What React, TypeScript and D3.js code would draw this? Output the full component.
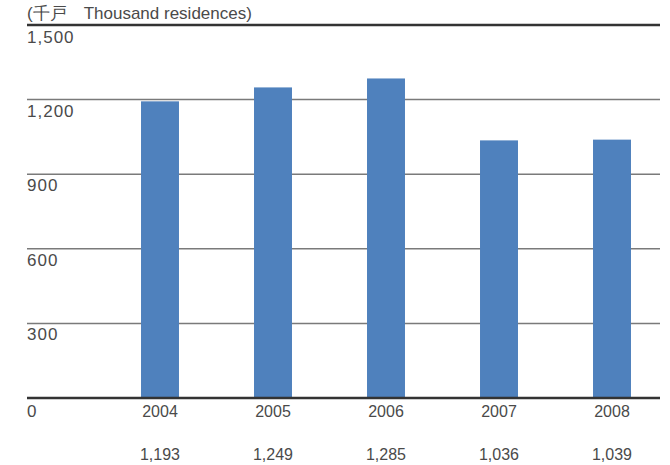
import React from "react";
import * as d3 from "d3";

const years = ["2004", "2005", "2006", "2007", "2008"];
const values = [1193, 1249, 1285, 1036, 1039];
const valueLabels = ["1,193", "1,249", "1,285", "1,036", "1,039"];
const yTicks = [300, 600, 900, 1200];
const yTickLabels = ["300", "600", "900", "1,200"];
const title = "(千戸\u3000Thousand residences)";

const W = 670;
const H = 465;

export default function App() {
  const x = d3.scaleBand<string>().domain(years).range([103.5, 668.5]).paddingInner(0.664).paddingOuter(0.332);
  const y = d3.scaleLinear().domain([0, 1500]).range([398, 25]);
  const left = 27;
  const right = 660;
  const font = "'Liberation Sans', Arial, sans-serif";
  const txt = "#4a4a4a";
  return (
    <svg width={W} height={H} style={{ position: "absolute", left: 0, top: 0, background: "#fff" }}>
      <text x={left} y={19} fontFamily={font} fontSize={17} fill={txt}>{title}</text>
      {yTicks.map((t) => (
        <line key={t} x1={left} x2={right} y1={y(t)} y2={y(t)} stroke="#7a7a7a" strokeWidth={1.5} />
      ))}
      {years.map((yr, i) => (
        <rect key={yr} x={x(yr)} width={x.bandwidth()} y={y(values[i])} height={y(0) - y(values[i])} fill="#4f81bd" />
      ))}
      <line x1={left} x2={right} y1={y(1500)} y2={y(1500)} stroke="#333" strokeWidth={2.5} />
      <line x1={left} x2={right} y1={y(0)} y2={y(0)} stroke="#333" strokeWidth={2.5} />
      <text x={left} y={y(1500) + 18} fontFamily={font} fontSize={17} letterSpacing={1} fill={txt}>1,500</text>
      {yTicks.map((t, i) => (
        <text key={t} x={left} y={y(t) + 17} fontFamily={font} fontSize={17} letterSpacing={1} fill={txt}>{yTickLabels[i]}</text>
      ))}
      <text x={left} y={y(0) + 19} fontFamily={font} fontSize={17} fill={txt}>0</text>
      {years.map((yr) => (
        <text key={yr} x={(x(yr) as number) + x.bandwidth() / 2} y={y(0) + 19} textAnchor="middle" fontFamily={font} fontSize={16} fill={txt}>{yr}</text>
      ))}
      {years.map((yr, i) => (
        <text key={yr + "v"} x={(x(yr) as number) + x.bandwidth() / 2} y={460} textAnchor="middle" fontFamily={font} fontSize={16} fill={txt}>{valueLabels[i]}</text>
      ))}
    </svg>
  );
}
